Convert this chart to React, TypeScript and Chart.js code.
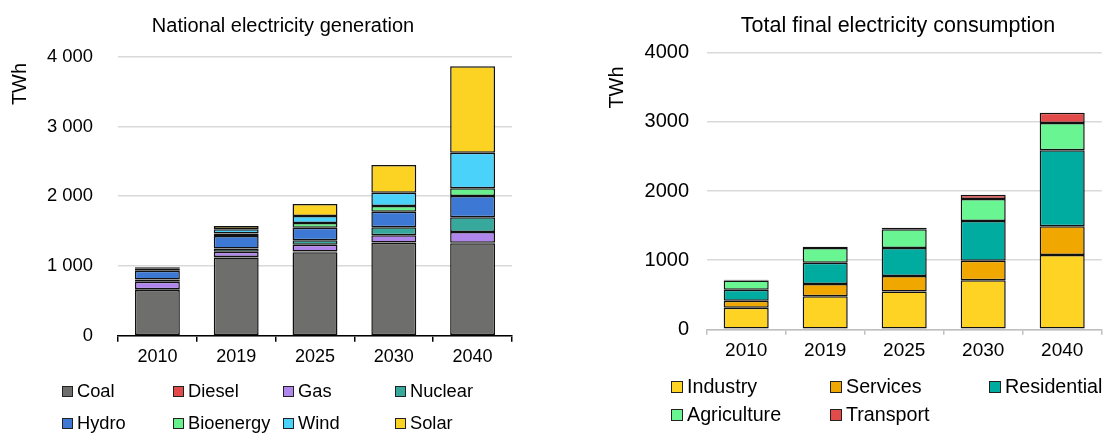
import React, { useEffect, useRef } from 'react';
import { Chart, registerables } from 'chart.js';

Chart.register(...registerables);

const FONT = "'Liberation Sans', Arial, Helvetica, sans-serif";

// ---------- Data ----------
const years = ['2010', '2019', '2025', '2030', '2040'];

// National electricity generation (TWh)
const coal = [655, 1121, 1197, 1330, 1325];
const diesel = [12, 8, 10, 5, 6];
const gas = [105, 74, 98, 105, 156];
const nuclear = [33, 46, 63, 114, 211];
const hydro = [126, 181, 180, 224, 305];
const bioenergy = [25, 34, 68, 81, 111];
const wind = [12, 61, 100, 191, 510];
const solar = [12, 48, 172, 396, 1239];

// Total final electricity consumption (TWh)
const industry = [313, 477, 545, 708, 1074];
const services = [101, 178, 226, 285, 415];
const residential = [159, 309, 405, 573, 1100];
const agriculture = [131, 212, 270, 318, 394];
const transport = [14, 19, 24, 63, 149];

const genTicks = [0, 1000, 2000, 3000, 4000];
const conTicks = [0, 1000, 2000, 3000, 4000];

const genSeries = [
  { label: 'Coal', data: coal, color: '#6e6f6d' },
  { label: 'Diesel', data: diesel, color: '#e34b4b' },
  { label: 'Gas', data: gas, color: '#b085ec' },
  { label: 'Nuclear', data: nuclear, color: '#37a99c' },
  { label: 'Hydro', data: hydro, color: '#3d78d4' },
  { label: 'Bioenergy', data: bioenergy, color: '#68f08c' },
  { label: 'Wind', data: wind, color: '#4bd2fb' },
  { label: 'Solar', data: solar, color: '#fdd323' },
];

const conSeries = [
  { label: 'Industry', data: industry, color: '#fed323' },
  { label: 'Services', data: services, color: '#f0a800' },
  { label: 'Residential', data: residential, color: '#00ab9f' },
  { label: 'Agriculture', data: agriculture, color: '#6af593' },
  { label: 'Transport', data: transport, color: '#e34b4b' },
];

const spaced = (v: number) => String(v).replace(/\B(?=(\d{3})+(?!\d))/g, ' ');

function textPlugin(p: any) {
  return {
    id: 'panelTexts',
    afterDraw(chart: any) {
      const ctx = chart.ctx;
      ctx.save();
      ctx.fillStyle = '#000';
      ctx.textAlign = 'center';
      ctx.textBaseline = 'middle';
      ctx.font = `${p.titleSize}px ${FONT}`;
      ctx.fillText(p.title, p.titleX, p.titleY);
      ctx.translate(p.unitX, p.unitY);
      ctx.rotate(-Math.PI / 2);
      ctx.font = `${p.unitSize}px ${FONT}`;
      ctx.fillText('TWh', 0, 0);
      ctx.restore();
    },
  };
}

function buildConfig(p: any) {
  return {
    type: 'bar',
    data: {
      labels: years,
      datasets: p.series.map((s: any) => ({
        label: s.label,
        data: s.data,
        backgroundColor: s.color,
        borderColor: '#111',
        borderWidth: 1.5,
        borderSkipped: false,
        inflateAmount: 0,
        categoryPercentage: 0.57,
        barPercentage: 1,
      })),
    },
    options: {
      responsive: false,
      animation: false,
      devicePixelRatio: 1,
      layout: { padding: { left: 0, right: p.padR, top: p.padTop, bottom: 0 } },
      plugins: {
        legend: { display: false },
        tooltip: { enabled: false },
        title: { display: false },
      },
      scales: {
        x: {
          stacked: true,
          ticks: { color: '#000', font: { size: p.xFont, family: FONT }, padding: p.xPad },
          grid: {
            drawOnChartArea: false,
            drawTicks: true,
            color: p.axisColor,
            lineWidth: 1.5,
            tickLength: p.tickLen,
            offset: true,
          },
          border: { display: true, color: p.axisColor, width: 1.5 },
          afterFit: (s: any) => {
            s.height = p.xHeight;
          },
        },
        y: {
          stacked: true,
          min: 0,
          max: 4000,
          afterBuildTicks: (s: any) => {
            s.ticks = p.yTicks.map((v: number) => ({ value: v }));
          },
          ticks: {
            color: '#000',
            font: { size: p.yFont, family: FONT },
            padding: p.yPad,
            callback: p.fmt,
          },
          grid: { color: '#d9d9d9', lineWidth: 1.5, drawTicks: false },
          border: { display: false },
          afterFit: (s: any) => {
            s.width = p.yWidth;
          },
        },
      },
    },
    plugins: [textPlugin(p)],
  };
}

function Legend(props: { items: any[]; pos: number[][]; size: number; box: number }) {
  return (
    <>
      {props.items.map((it, i) => {
        const [bx, cy] = props.pos[i];
        return (
          <React.Fragment key={it.label}>
            <div
              style={{
                position: 'absolute',
                left: bx,
                top: cy - props.box / 2,
                width: props.box - 2,
                height: props.box - 2,
                background: it.color,
                border: '1px solid #222',
              }}
            />
            <span
              style={{
                position: 'absolute',
                left: bx + props.box + 4,
                top: cy,
                transform: 'translateY(-52%)',
                fontFamily: FONT,
                fontSize: props.size,
                lineHeight: 1.15,
                color: '#000',
                whiteSpace: 'nowrap',
              }}
            >
              {it.label}
            </span>
          </React.Fragment>
        );
      })}
    </>
  );
}

export default function App() {
  const leftRef = useRef<HTMLCanvasElement | null>(null);
  const rightRef = useRef<HTMLCanvasElement | null>(null);

  useEffect(() => {
    const left = new Chart(
      leftRef.current as HTMLCanvasElement,
      buildConfig({
        series: genSeries,
        title: 'National electricity generation',
        titleSize: 20,
        titleX: 283,
        titleY: 26,
        padTop: 56.7,
        padR: 48,
        yWidth: 118,
        yFont: 18.4,
        yPad: 25,
        xFont: 18,
        xPad: 4.5,
        tickLen: 6,
        xHeight: 97.3,
        axisColor: '#000',
        yTicks: genTicks,
        fmt: (v: any) => spaced(Number(v)),
        unitX: 20,
        unitY: 84,
        unitSize: 20,
      }) as any
    );
    const right = new Chart(
      rightRef.current as HTMLCanvasElement,
      buildConfig({
        series: conSeries,
        title: 'Total final electricity consumption',
        titleSize: 21.5,
        titleX: 338,
        titleY: 26,
        padTop: 52.7,
        padR: 3.3,
        yWidth: 146.7,
        yFont: 20,
        yPad: 17.7,
        xFont: 19,
        xPad: 4.3,
        tickLen: 5.5,
        xHeight: 103.7,
        axisColor: '#bfbfbf',
        yTicks: conTicks,
        fmt: (v: any) => String(v),
        unitX: 57,
        unitY: 87.5,
        unitSize: 20,
      }) as any
    );
    return () => {
      left.destroy();
      right.destroy();
    };
  }, []);

  return (
    <div
      style={{
        position: 'fixed',
        left: 0,
        top: 0,
        width: 1105,
        height: 433,
        background: '#fff',
        overflow: 'hidden',
      }}
    >
      <canvas
        ref={leftRef}
        width={560}
        height={433}
        style={{ position: 'absolute', left: 0, top: 0, width: 560, height: 433 }}
      />
      <canvas
        ref={rightRef}
        width={545}
        height={433}
        style={{ position: 'absolute', left: 560, top: 0, width: 545, height: 433 }}
      />
      <Legend
        items={genSeries}
        size={18.3}
        box={11}
        pos={[
          [62, 391],
          [173, 391],
          [283, 391],
          [395, 391],
          [62, 423],
          [173, 423],
          [283, 423],
          [395, 423],
        ]}
      />
      <Legend
        items={conSeries}
        size={19.7}
        box={12}
        pos={[
          [671, 386.5],
          [830, 386.5],
          [989, 386.5],
          [671, 415],
          [830, 415],
        ]}
      />
    </div>
  );
}
